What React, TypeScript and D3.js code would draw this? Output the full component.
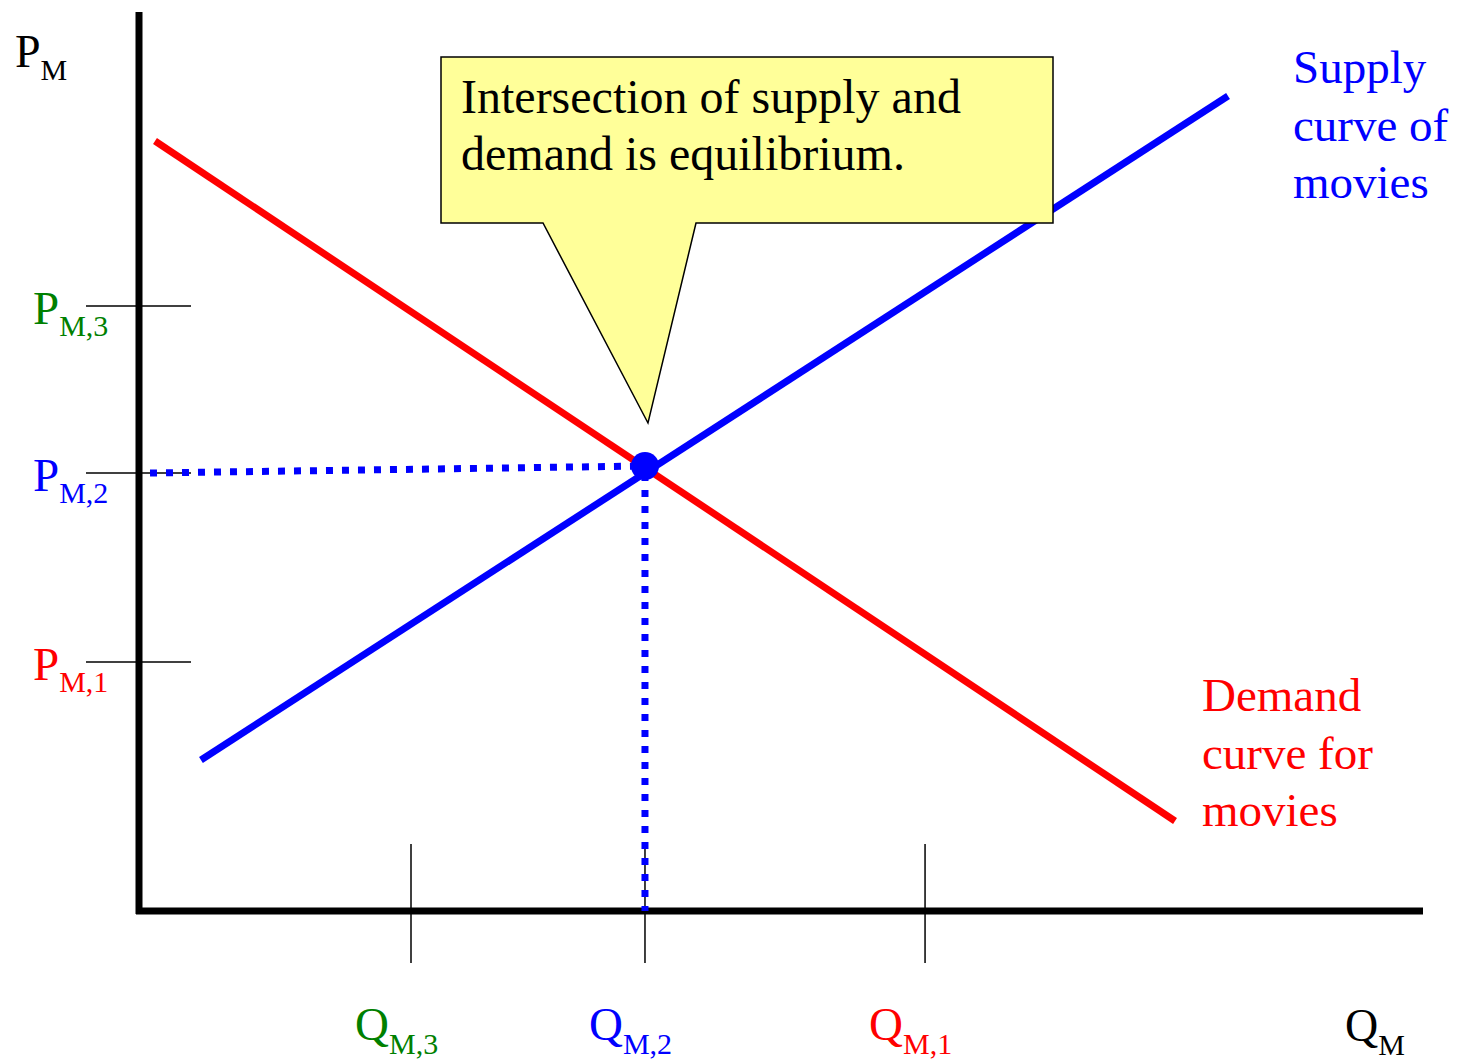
import React from "react";
import * as d3 from "d3";

// ---- data (chart units: quantity 0..100, price 0..100) ----
const demandQ = [1.25, 80.94];
const demandP = [85.65, 10.01];
const supplyQ = [4.84, 85.08];
const supplyP = [16.8, 90.66];
const equilibriumQ = 39.53;
const equilibriumP = 49.5;
const priceGuideStart = { q: 0.86, p: 48.72 };

const priceTickLabels = ["M,3", "M,2", "M,1"];
const priceTickValues = [67.3, 48.72, 27.7];
const priceTickColors = ["#008000", "#0000ff", "#ff0000"];

const qtyTickLabels = ["M,3", "M,2", "M,1"];
const qtyTickValues = [21.25, 39.53, 61.41];
const qtyTickColors = ["#008000", "#0000ff", "#ff0000"];

const calloutLines = ["Intersection of supply and", "demand is equilibrium."];
const supplyLabel = ["Supply", "curve of", "movies"];
const demandLabel = ["Demand", "curve for", "movies"];

const W = 1464;
const H = 1061;
const FONT = "'Liberation Serif', 'Times New Roman', serif";

export default function App() {
  const x = d3.scaleLinear().domain([0, 100]).range([139, 1419]);
  const y = d3.scaleLinear().domain([0, 100]).range([911, 12]);
  const line = d3
    .line<[number, number]>()
    .x((d) => x(d[0]))
    .y((d) => y(d[1]));

  const demandPts: [number, number][] = demandQ.map((q, i) => [q, demandP[i]]);
  const supplyPts: [number, number][] = supplyQ.map((q, i) => [q, supplyP[i]]);
  const ex = x(equilibriumQ);
  const ey = y(equilibriumP);
  const x0 = x(0);
  const y0 = y(0);

  // callout geometry
  const box = { x: 441, y: 57, w: 612, h: 166 };
  const calloutPath = [
    `M${box.x},${box.y}`,
    `H${box.x + box.w}`,
    `V${box.y + box.h}`,
    `H696`,
    `L${ex + 3},${ey - 43}`,
    `L543,${box.y + box.h}`,
    `H${box.x}`,
    "Z",
  ].join(" ");

  return (
    <svg
      width={W}
      height={H}
      style={{ position: "absolute", left: 0, top: 0, background: "#fff" }}
      fontFamily={FONT}
    >
      {/* tick marks */}
      {priceTickValues.map((v, i) => (
        <line key={"pt" + i} x1={x0 - 53} x2={x0 + 52} y1={y(v)} y2={y(v)} stroke="#000" strokeWidth={1.5} />
      ))}
      {qtyTickValues.map((v, i) => (
        <line key={"qt" + i} x1={x(v)} x2={x(v)} y1={y0 - 67} y2={y0 + 52} stroke="#000" strokeWidth={1.5} />
      ))}

      {/* axes */}
      <line x1={x0} x2={x0} y1={y(100)} y2={y0 + 3} stroke="#000" strokeWidth={7} />
      <line x1={x0 - 3} x2={x(100) + 4} y1={y0} y2={y0} stroke="#000" strokeWidth={7} />

      {/* guides */}
      <path
        d={line([
          [priceGuideStart.q, priceGuideStart.p],
          [equilibriumQ, equilibriumP],
        ]) || ""}
        stroke="#0000ff"
        strokeWidth={7}
        strokeDasharray="7 9"
        fill="none"
      />
      <path
        d={line([
          [equilibriumQ, equilibriumP],
          [equilibriumQ, 0],
        ]) || ""}
        stroke="#0000ff"
        strokeWidth={7}
        strokeDasharray="7 9"
        strokeDashoffset={-8}
        fill="none"
      />

      {/* curves */}
      <path d={line(demandPts) || ""} stroke="#ff0000" strokeWidth={7} fill="none" />
      <path d={line(supplyPts) || ""} stroke="#0000ff" strokeWidth={7} fill="none" />
      <circle cx={ex} cy={ey} r={14} fill="#0000ff" />

      {/* callout */}
      <path d={calloutPath} fill="#ffff99" stroke="#000" strokeWidth={1.5} strokeLinejoin="miter" />
      {calloutLines.map((t, i) => (
        <text key={"c" + i} x={461} y={113 + i * 57} fontSize={48} fill="#000">
          {t}
        </text>
      ))}

      {/* curve labels */}
      {supplyLabel.map((t, i) => (
        <text key={"s" + i} x={1293} y={83 + i * 57.5} fontSize={47} fill="#0000ff">
          {t}
        </text>
      ))}
      {demandLabel.map((t, i) => (
        <text key={"d" + i} x={1202} y={711 + i * 57.5} fontSize={47} fill="#ff0000">
          {t}
        </text>
      ))}

      {/* axis titles */}
      <text x={15} y={67} fontSize={46} fill="#000">
        P<tspan dy={13} fontSize={30}>M</tspan>
      </text>
      <text x={1345} y={1041} fontSize={46} fill="#000">
        Q<tspan dy={14} fontSize={30}>M</tspan>
      </text>

      {/* price tick labels */}
      {priceTickValues.map((v, i) => (
        <text key={"pl" + i} x={33} y={y(v) + 18} fontSize={47} fill={priceTickColors[i]}>
          P<tspan dy={12} fontSize={30}>{priceTickLabels[i]}</tspan>
        </text>
      ))}
      {/* quantity tick labels */}
      {qtyTickValues.map((v, i) => (
        <text key={"ql" + i} x={x(v) - 56} y={1040} fontSize={47} fill={qtyTickColors[i]}>
          Q<tspan dy={14} fontSize={30}>{qtyTickLabels[i]}</tspan>
        </text>
      ))}
    </svg>
  );
}
